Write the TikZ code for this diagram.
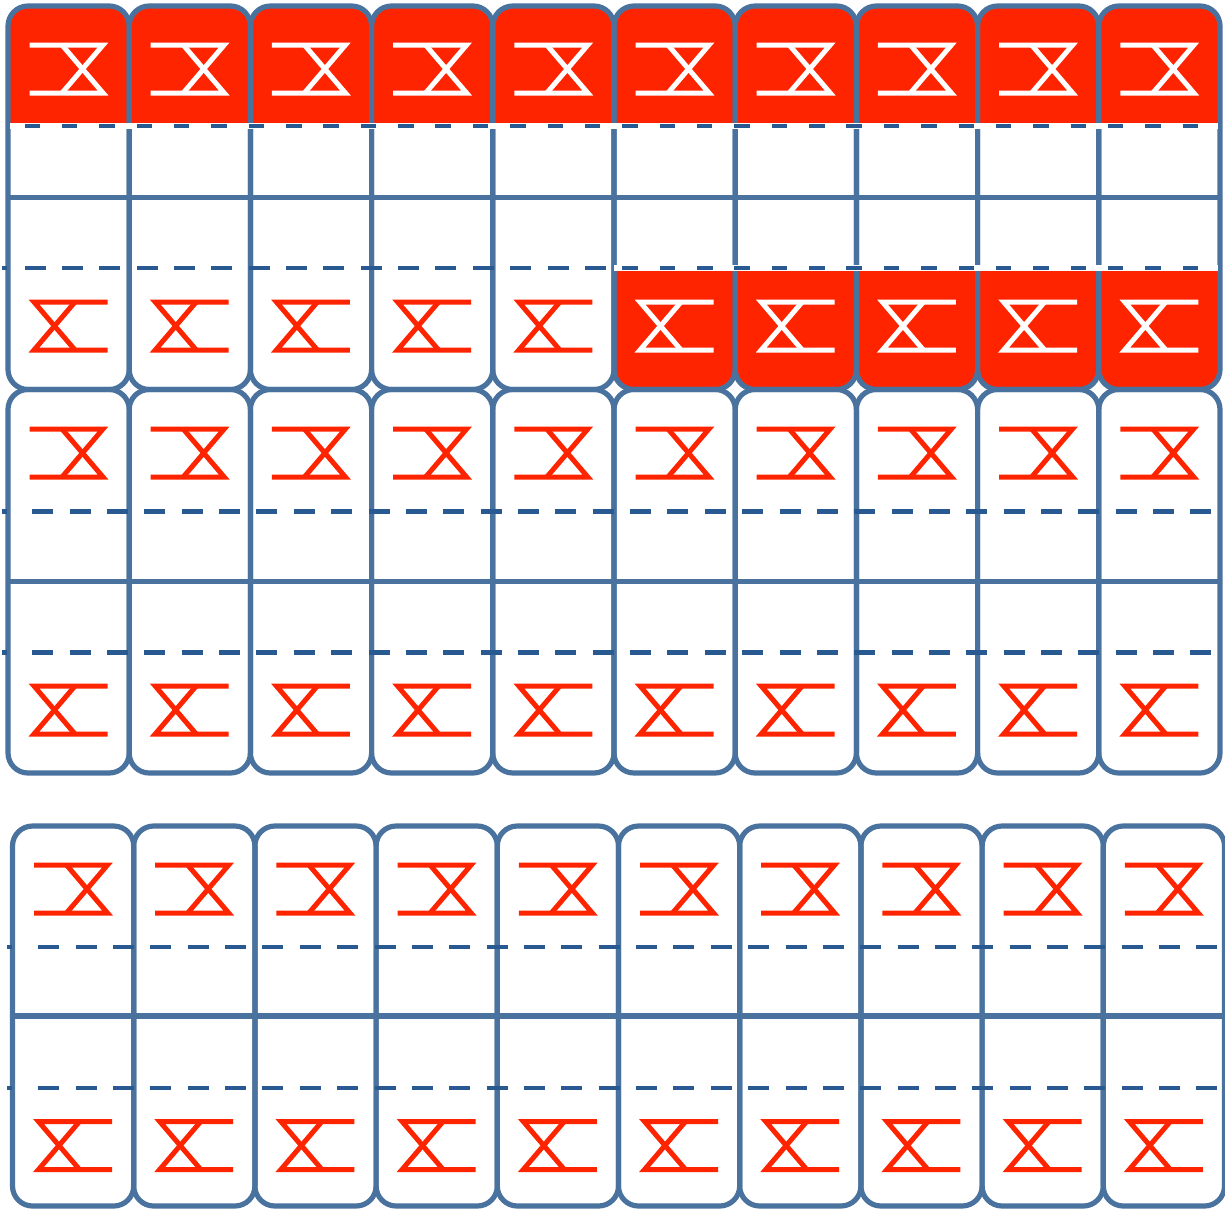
\documentclass[tikz,border=0pt]{standalone}
\definecolor{bord}{RGB}{74,114,158}
\definecolor{dsh}{RGB}{40,90,145}
\definecolor{rd}{RGB}{255,36,0}
\tikzset{
 boxline/.style={draw=bord, line width=5.2pt, rounded corners=20pt},
 midline/.style={draw=bord, line width=5.2pt},
 dashA/.style={draw=dsh, line width=4.6pt, dash pattern=on 21pt off 16.36pt},
 dashB/.style={draw=dsh, line width=4.6pt, dash pattern=on 15.5pt off 21.86pt},
 dpiece/.style={draw=dsh, line width=4.6pt},
 strip/.style={draw=white, line width=5.5pt},
 glyph/.style={line width=5pt, line join=miter},
}
\newcommand\glyphA[3]{%
  \draw[glyph,#3] ({#1-39.5},{#2-24}) -- ({#1+34},{#2-24}) -- ({#1-7},{#2+24});
  \draw[glyph,#3] ({#1-39.5},{#2+24}) -- ({#1+34},{#2+24}) -- ({#1-7},{#2-24});}
\newcommand\glyphB[3]{%
  \draw[glyph,#3] ({#1+38.5},{#2-24}) -- ({#1-35},{#2-24}) -- ({#1+6},{#2+24});
  \draw[glyph,#3] ({#1+38.5},{#2+24}) -- ({#1-35},{#2+24}) -- ({#1+6},{#2-24});}
\begin{document}
\begin{tikzpicture}[x=1pt,y=-1pt]
\useasboundingbox (0,0) rectangle (1225,1210);
% red fills
\foreach \i in {0,...,9}{
  \pgfmathsetmacro\xa{8+121.2*\i}
  \pgfmathsetmacro\xb{\xa+121.2}
  \begin{scope}
    \clip (0,0) rectangle (1225,126);
    \fill[rd, rounded corners=20pt] (\xa,6) rectangle (\xb,389.5);
  \end{scope}
}
\foreach \i in {5,...,9}{
  \pgfmathsetmacro\xa{8+121.2*\i}
  \pgfmathsetmacro\xb{\xa+121.2}
  \begin{scope}
    \clip (0,268) rectangle (1225,400);
    \fill[rd, rounded corners=20pt] (\xa,6) rectangle (\xb,389.5);
  \end{scope}
}
% boxes
\foreach \bx/\tp/\bt in {8/6/389.5, 8/389.5/773, 12.5/826/1206}{
  \foreach \i in {0,...,9}{
    \pgfmathsetmacro\xa{\bx+121.2*\i}
    \pgfmathsetmacro\xb{\xa+121.2}
    \pgfmathsetmacro\ym{(\tp+\bt)/2}
    \draw[boxline] (\xa,\tp) rectangle (\xb,\bt);
    \draw[midline] (\xa,\ym) -- (\xb,\ym);
  }
}
% dashed lines, block 1
\draw[strip] (10,126) -- (1218,126);
\draw[dashB] (24.5,126) -- (1218,126);
\draw[dpiece] (2,268) -- (7,268);
\draw[dashA] (24.5,268) -- (613,268);
\draw[strip] (614,268) -- (1218,268);
\draw[dashB] (622.3,268) -- (1218,268);
% block 2
\foreach \yy in {511.5,652.5}{
  \draw[dpiece] (2,\yy) -- (7,\yy);
  \draw[dashA] (32.3,\yy) -- (1216,\yy);
}
% block 3
\foreach \yy in {947,1088}{
  \draw[dpiece] (7,\yy) -- (12,\yy);
  \draw[dashA] (38.3,\yy) -- (1218,\yy);
}
% glyphs
\foreach \i in {0,...,9}{
  \pgfmathsetmacro\cx{8+121.2*\i+61}
  \glyphA{\cx}{69}{white}
  \glyphA{\cx}{453}{rd}
  \glyphB{\cx}{710}{rd}
  \pgfmathsetmacro\cxx{12.5+121.2*\i+61}
  \glyphA{\cxx}{889}{rd}
  \glyphB{\cxx}{1145.5}{rd}
}
\foreach \i in {0,...,4}{
  \pgfmathsetmacro\cx{8+121.2*\i+61}
  \glyphB{\cx}{326}{rd}
}
\foreach \i in {5,...,9}{
  \pgfmathsetmacro\cx{8+121.2*\i+61}
  \glyphB{\cx}{326}{white}
}
\end{tikzpicture}
\end{document}
